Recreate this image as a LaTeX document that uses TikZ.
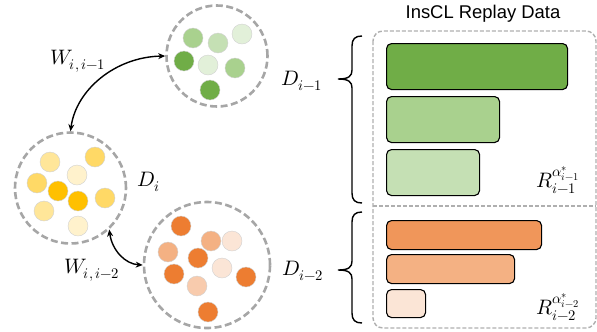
\documentclass[tikz,border=0pt]{standalone}
\usepackage{fontspec}
\usepackage{unicode-math}
\newfontfamily\titlefont{Liberation Sans}
\usetikzlibrary{arrows.meta}
\definecolor{gA}{HTML}{70AD47}
\definecolor{gB}{HTML}{A9D18E}
\definecolor{gC}{HTML}{C5E0B4}
\definecolor{gD}{HTML}{E2F0D9}
\definecolor{yA}{HTML}{FFC000}
\definecolor{yB}{HTML}{FFD966}
\definecolor{yC}{HTML}{FFE699}
\definecolor{yD}{HTML}{FFF2CC}
\definecolor{oA}{HTML}{ED7D31}
\definecolor{oB}{HTML}{F4B183}
\definecolor{oC}{HTML}{F8CBAD}
\definecolor{oD}{HTML}{FBE5D6}
\definecolor{oBar}{HTML}{F0965A}
\definecolor{poolgray}{HTML}{A6A6A6}
\definecolor{boxgray}{HTML}{AFAFAF}
\newcommand{\lowsub}[1]{\raisebox{-2.5bp}{$\scriptstyle #1$}}
\begin{document}
\begin{tikzpicture}[x=1bp,y=-1bp,
  pool/.style={circle, draw=poolgray, dash pattern=on 7bp off 3.5bp, line width=2.6bp, inner sep=0pt, minimum size=#1},
  dot/.style={circle, fill=#1, draw=black!18, line width=0.4bp, minimum size=20bp, inner sep=0pt},
  bar/.style={draw=black, line width=1.1bp, rounded corners=5bp, anchor=north west, inner sep=0pt},
  lbl/.style={font=\fontsize{21}{23}\selectfont, inner sep=0pt},
  link/.style={{Stealth[length=7bp,width=6bp]}-{Stealth[length=7bp,width=6bp]}, line width=1.4bp},
  bracestyle/.style={line width=1.4bp},
  boxdash/.style={draw=boxgray, line width=1.4bp, dash pattern=on 4bp off 2bp}
]
\useasboundingbox (0,0) rectangle (597,331);

% pools
\node[pool=101bp] (G) at (217,56) {};
\node[pool=111bp] (Y) at (70.5,188) {};
\node[pool=126bp] (O) at (207,265) {};

% green dots
\node[dot=gB] (g1) at (193,38) {};
\node[dot=gC] (g2) at (218,43) {};
\node[dot=gD] (g3) at (242,34) {};
\node[dot=gA] (g4) at (184,61) {};
\node[dot=gD] (g5) at (208,65) {};
\node[dot=gB] (g6) at (235,68) {};
\node[dot=gA] (g7) at (210,90) {};

% yellow dots
\node[dot=yC] (y1) at (50,162) {};
\node[dot=yB] (y2) at (95,157) {};
\node[dot=yD] (y3) at (77,175) {};
\node[dot=yB] (y4) at (37,183) {};
\node[dot=yA] (y5) at (58,191) {};
\node[dot=yA] (y6) at (78,201) {};
\node[dot=yB] (y7) at (105,198) {};
\node[dot=yC] (y8) at (44,211) {};
\node[dot=yD] (y9) at (78,226) {};

% orange dots
\node[dot=oA] (o1) at (181,226) {};
\node[dot=oB] (o2) at (211,241) {};
\node[dot=oD] (o3) at (232,241) {};
\node[dot=oB] (o4) at (168,252) {};
\node[dot=oA] (o5) at (198,258) {};
\node[dot=oD] (o6) at (222,268) {};
\node[dot=oA] (o7) at (174,274) {};
\node[dot=oA] (o8) at (246,277) {};
\node[dot=oC] (o9) at (197,286) {};
\node[dot=oA] (o10) at (208,312) {};

% links
\draw[link] (Y.north) .. controls (76,90) and (115,57) .. (G.west);
\draw[link] (Y.-47) .. controls (112,250) and (125,264) .. (O.west);

% labels
\node[lbl] (w1) at (78,61) {$W_{i,\,i-1}$};
\node[lbl] (w2) at (92,270) {$W_{i,\,i-2}$};
\node[lbl] (di) at (149,182) {$D_i$};
\node[lbl] (d1) at (302,81) {$D_{i-1}$};
\node[lbl] (d2) at (303,271) {$D_{i-2}$};

% braces
\draw[bracestyle] (362,36) .. controls (355,36) and (352,39) .. (352,46) -- (352,70)
  .. controls (352,76) and (349,79) .. (338,79)
  .. controls (349,79) and (352,82) .. (352,88) -- (352,193)
  .. controls (352,200) and (355,203) .. (362,203);
\draw[bracestyle] (362,212) .. controls (355,212) and (352,215) .. (352,222) -- (352,261)
  .. controls (352,267) and (349,270) .. (338,270)
  .. controls (349,270) and (352,273) .. (352,279) -- (352,313)
  .. controls (352,320) and (355,323) .. (362,323);

% replay box
\node[font=\titlefont\fontsize{18.5}{20}\selectfont, inner sep=0pt] (title) at (483,14) {InsCL Replay Data};
\draw[boxdash, rounded corners=10bp] (373,31) rectangle (596,328);
\draw[boxdash] (373,206) -- (596,206);

% bars
\node[bar, fill=gA, minimum width=181bp, minimum height=46bp] (b1) at (386,43) {};
\node[bar, fill=gB, minimum width=113bp, minimum height=46bp] (b2) at (386,96) {};
\node[bar, fill=gC, minimum width=93bp, minimum height=46bp] (b3) at (386,149) {};
\node[bar, fill=oBar, minimum width=155bp, minimum height=29bp] (b4) at (386,220) {};
\node[bar, fill=oB, minimum width=128bp, minimum height=29bp] (b5) at (386,254) {};
\node[bar, fill=oD, minimum width=39bp, minimum height=28bp] (b6) at (386,289) {};

\node[lbl] (r1) at (558,180) {$R_{\lowsub{i-1}}^{\alpha_{i-1}^{*}}$};
\node[lbl] (r2) at (558,307) {$R_{\lowsub{i-2}}^{\alpha_{i-2}^{*}}$};
\end{tikzpicture}
\end{document}
